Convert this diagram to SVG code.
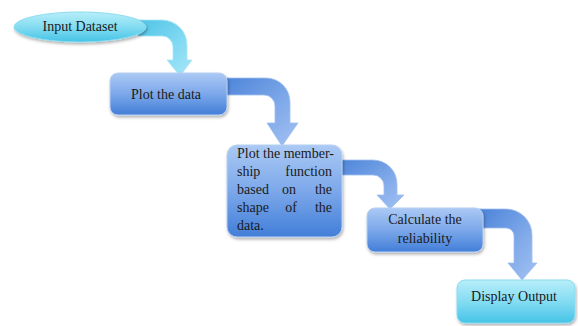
<svg xmlns="http://www.w3.org/2000/svg" width="578" height="326" viewBox="0 0 578 326">
<defs>
<linearGradient id="gBox" x1="0" y1="0" x2="0" y2="1">
<stop offset="0" stop-color="#abc9f4"/>
<stop offset="0.5" stop-color="#7ca8ea"/>
<stop offset="1" stop-color="#427ed8"/>
</linearGradient>
<linearGradient id="gCyan" x1="0" y1="0" x2="0" y2="1">
<stop offset="0" stop-color="#b8eef9"/>
<stop offset="0.5" stop-color="#84dcf2"/>
<stop offset="1" stop-color="#45c3e6"/>
</linearGradient>
<linearGradient id="gArrB" x1="0" y1="0" x2="1" y2="1">
<stop offset="0" stop-color="#4a82d8"/>
<stop offset="0.6" stop-color="#82abea"/>
<stop offset="1" stop-color="#a2c1f2"/>
</linearGradient>
<linearGradient id="gArrC" x1="0" y1="0" x2="1" y2="1">
<stop offset="0" stop-color="#4fc3e6"/>
<stop offset="0.6" stop-color="#84daf3"/>
<stop offset="1" stop-color="#a8e7f8"/>
</linearGradient>
<filter id="sh" x="-20%" y="-20%" width="140%" height="150%">
<feDropShadow dx="1" dy="2" stdDeviation="1.5" flood-color="#000" flood-opacity="0.3"/>
</filter>
</defs>
<style>
.t{font-family:"Liberation Serif","Times New Roman",serif;font-size:14px;fill:#1a1a1a}
.box{fill:url(#gBox);stroke:#b8d0f2;stroke-width:1;filter:url(#sh)}
.cbox{fill:url(#gCyan);stroke:#8adcf0;stroke-width:1;filter:url(#sh)}
.arrB{fill:url(#gArrB);stroke:#9ebff0;stroke-width:0.8}
.arrC{fill:url(#gArrC);stroke:#a8e6f6;stroke-width:0.8}
</style>
<rect width="578" height="326" fill="#ffffff"/>
<g id="connectors">
<path class="arrC" d="M138,20 H162 A25,25 0 0 1 187,45 V60 H192 L180,76 L167,60 H173 V47 A11,11 0 0 0 162,36 H138 Z"/>
<path class="arrB" d="M220,78 H266 A24,24 0 0 1 290,102 V123 H298 L282,146 L267,123 H275 V106 A11,11 0 0 0 264,95 H220 Z"/>
<path class="arrB" d="M336,160 H373 A24,24 0 0 1 397,184 V195 H404 L390,209 L377,195 H384 V186 A11,11 0 0 0 373,175 H336 Z"/>
<path class="arrB" d="M478,209 H506 A26,26 0 0 1 532,235 V263 H537 L522,280 L508,263 H514 V236 A8,8 0 0 0 506,228 H478 Z"/>
</g>
<g id="input">
<ellipse cx="80" cy="27" rx="66" ry="15" class="cbox"/>
<text class="t" x="80" y="31" text-anchor="middle">Input Dataset</text>
</g>
<g id="plot">
<rect x="110" y="73" width="117" height="42" rx="8" class="box"/>
<text class="t" x="166" y="99" text-anchor="middle">Plot the data</text>
</g>
<g id="membership">
<rect x="227" y="145" width="115" height="92" rx="10" class="box"/>
<text class="t" x="237" y="158">Plot the member-</text>
<text class="t" x="237" y="176">ship</text>
<text class="t" x="332" y="176" text-anchor="end">function</text>
<text class="t" x="237" y="194">based</text>
<text class="t" x="289" y="194" text-anchor="middle">on</text>
<text class="t" x="332" y="194" text-anchor="end">the</text>
<text class="t" x="237" y="212">shape</text>
<text class="t" x="291" y="212" text-anchor="middle">of</text>
<text class="t" x="332" y="212" text-anchor="end">the</text>
<text class="t" x="237" y="230">data.</text>
</g>
<g id="reliability">
<rect x="367" y="208" width="116" height="44" rx="8" class="box"/>
<text class="t" x="425" y="224" text-anchor="middle">Calculate the</text>
<text class="t" x="425" y="243" text-anchor="middle">reliability</text>
</g>
<g id="output">
<rect x="457" y="280" width="118" height="43" rx="8" class="cbox"/>
<text class="t" x="514" y="301" text-anchor="middle">Display Output</text>
</g>
</svg>
